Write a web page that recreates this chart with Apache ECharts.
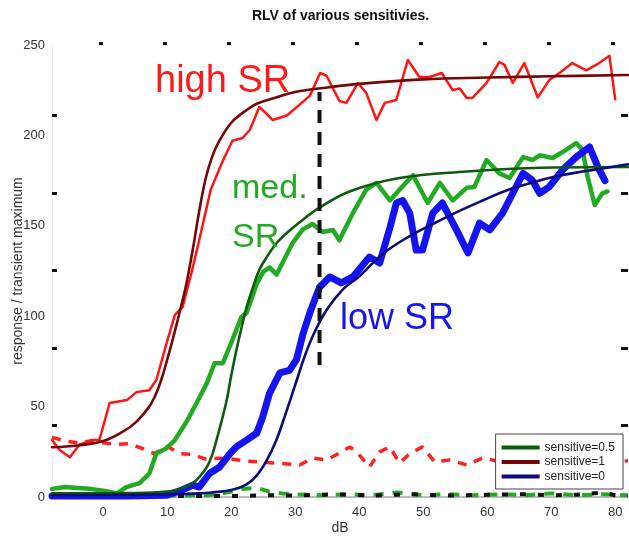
<!DOCTYPE html>
<html>
<head>
<meta charset="utf-8">
<script src="https://cdn.jsdelivr.net/npm/echarts@6/dist/echarts.min.js"></script>
<style>
  html, body { margin: 0; padding: 0; background: #fff; }
  #chart { width: 629px; height: 541px; }
</style>
</head>
<body>
<div id="chart"></div>
<script>
// Rate-level curves (response vs. level in dB) for three sensitivity settings.

const xTicks = [0, 10, 20, 30, 40, 50, 60, 70, 80];
const yTicks = [0, 50, 100, 150, 200, 250];
const sideTicks = [39.8, 82.4, 125.4, 168.1, 211.3];
const topTicks = [-0.45, 9.55, 19.55, 29.55, 39.55, 49.55, 59.55, 69.55, 79.55];

// measured responses: high spontaneous-rate fibre
const highX = [-8, -6.8, -5.2, -3.7, -1.7, -0.6, 1, 3.7, 5.2, 7.2, 8.3, 9.9, 11.2, 12.4, 13.8, 15, 16.8, 18.7, 20.2, 21.8, 22.9, 24.4, 25.5, 26.5, 28.7, 30.7, 32.3, 33.9, 34.9, 36.9, 38, 39.8, 41.1, 42.7, 44, 45.8, 47.6, 49.4, 51, 52.9, 54.6, 55.7, 56.8, 57.7, 59.9, 61.9, 62.7, 64, 65.8, 67.9, 69.7, 71.3, 73.3, 75.5, 77.5, 79.1, 80];
const highY = [31.5, 26, 22, 29, 31.5, 31.5, 52, 53.6, 58, 59, 64.7, 85, 100.7, 105, 124, 142, 170, 186, 197, 198.6, 203, 215.7, 212, 208.5, 211, 217, 222, 234.5, 233, 219, 218, 229, 223.5, 208.5, 218, 219.6, 241.7, 232.3, 232.3, 234.5, 225, 226, 220.7, 220.7, 229, 240.6, 239, 229, 240, 221, 230.6, 234.5, 240, 236, 240, 244, 220];

// measured responses: medium spontaneous-rate fibre
const medX = [-8, -6, -4, -2, 0, 1, 2.2, 3.6, 5.7, 7.2, 8.3, 9.9, 11.2, 13, 14.6, 16.2, 17.4, 18.7, 20.2, 21.6, 22.4, 24, 25, 26, 27.1, 28, 29.6, 31.2, 32.7, 34.3, 35.9, 36.9, 39, 41.1, 42.7, 44.8, 46.3, 48.4, 50.7, 52.6, 54.6, 56.8, 58, 59.9, 61.9, 63.5, 65.6, 67.1, 68.2, 70.2, 71.8, 73.9, 74.9, 75.7, 76.8, 78, 78.8];
const medY = [4.5, 5.5, 5, 4.5, 3.5, 2.8, 2, 5.5, 7.7, 13, 24, 27, 31.5, 41.5, 52, 63, 74, 74, 87, 99.6, 101.8, 118, 124.5, 127, 123, 129.4, 140.5, 148, 151, 146.6, 147.7, 142, 157, 170, 173.7, 164, 170, 178, 162.6, 173.7, 164, 171, 171.5, 186.4, 179, 176.4, 188, 186.4, 189, 187.5, 190.8, 195.8, 192, 177, 161.5, 168, 169];

// measured responses: low spontaneous-rate fibre
const lowX = [-8, -4, 0, 4, 8, 10, 12.4, 14, 15, 16.6, 18.2, 19.8, 20.8, 22.4, 24, 24.9, 26, 27.6, 29.1, 30.2, 31.2, 32.3, 33.8, 35.4, 37.2, 39, 41.6, 43.2, 44.8, 45.8, 46.8, 47.9, 48.9, 49.9, 51.5, 53, 55.2, 57, 58.8, 60.4, 62.4, 64, 65.6, 67.1, 68.2, 69.7, 71.8, 73.9, 76, 77.3, 78.4];
const lowY = [0.5, 0.5, 0.5, 0.5, 0.8, 1, 4, 6.6, 5.5, 13, 16.6, 24, 27.7, 31.5, 35.4, 44, 57.5, 68.6, 70, 76, 90, 102, 116, 121.7, 118.4, 121.7, 132.7, 129.4, 149, 162.6, 164, 157, 136.6, 136.6, 157, 162.6, 147.7, 135, 151.5, 147.7, 157, 168, 179, 175, 168, 171.5, 181, 188, 193.6, 182.5, 175];

// model curves
const fit1X = [-8, -4, 0, 3, 5, 7, 8, 9, 10, 11, 12, 13, 14, 15, 16, 17, 18, 20, 22, 24, 27, 30, 35, 40, 50, 60, 70, 82];
const fit1Y = [27.5, 28.5, 31, 36, 41, 49, 55, 64, 76, 89, 103, 118, 137, 158, 176, 188, 196, 207, 213, 217.5, 221, 224, 226.5, 228.5, 231, 232, 232.7, 233.4];

const fit05X = [-8, 5, 10, 12, 14, 15, 16.2, 17, 17.7, 18.5, 19.3, 20, 20.8, 21.6, 22.4, 23.4, 24.4, 25.7, 27.1, 29, 30.7, 33.8, 38.5, 46.3, 56.8, 67.1, 82];
const fit05Y = [2, 2.2, 3, 4.5, 7.7, 11, 16.6, 23, 31.5, 42, 53.6, 67, 81, 93.5, 105, 116, 125.6, 133.5, 140.5, 147, 152, 160, 169, 176.4, 180, 182, 182.5];

const fit0X = [-8, 5, 10, 15, 17, 20.2, 22.4, 24, 25.5, 27, 28.5, 30, 31.5, 33, 35, 37.5, 40, 43.7, 47.5, 51.5, 55.5, 59.3, 63, 67.1, 71, 74.9, 78.5, 82];
const fit0Y = [1, 1.2, 1.5, 2, 2.5, 4, 7, 12, 20, 31, 46, 62, 78, 91, 104, 115, 122, 134.5, 143.5, 151, 158, 164, 169.5, 174, 177.5, 180, 182, 184];

// spontaneous / baseline traces
const spontHighX = [-8, -6, -4, -2, 0, 2, 4, 6, 8, 10, 12, 14, 16, 18, 20, 22, 24, 26, 28, 30.7, 32.7, 34.9, 37, 38.5, 39.6, 41.6, 43.2, 44.8, 46.3, 47.9, 49.9, 51.8, 54.1, 56.8, 59.3, 60.8, 62, 64, 66, 68, 70, 72, 74, 76, 78, 80, 82];
const spontHighY = [33, 31, 30, 31, 30, 29, 29.5, 27, 24, 28, 24, 23.5, 21, 21.5, 21, 20, 19.5, 19, 18.5, 17.7, 21.6, 20.5, 24.5, 27.7, 25, 16.6, 25, 27.7, 18.8, 24, 27.7, 19.4, 20.5, 17.7, 21.6, 20.5, 19.5, 20, 21, 20, 19.5, 21, 20, 19, 19.5, 19.4, 20];

const spontMedX = [-8, 2, 10, 16, 18, 20, 22, 24, 26, 28, 30, 34, 38, 42, 46, 50, 54, 58, 62, 66, 70, 74, 78, 82];
const spontMedY = [0.5, 0.5, 0.8, 1, 1.5, 3, 4.5, 5, 3, 2, 1.5, 1, 1.5, 1, 2.5, 1, 1.5, 1, 1.5, 1, 2, 1, 1.5, 1];

const spontLowX = [-8, 0, 10, 20, 26, 30, 36, 42, 48, 54, 60, 66, 70, 74, 78, 80, 82];
const spontLowY = [0.3, 0.3, 0.5, 0.5, 1, 0.8, 1.5, 0.8, 1.5, 0.8, 1.2, 1.5, 1, 1.2, 2.5, 1, 0.5];

// threshold marker
const thrX = [33.8, 33.8];
const thrY = [73, 224];

const pairs = (xs, ys) => xs.map((x, i) => [x, ys[i]]);
const FONT = '"Liberation Sans", Arial, Helvetica, sans-serif';

const chart = echarts.init(document.getElementById('chart'), null, { renderer: 'canvas' });

function line(name, xs, ys, color, width, extra) {
  return Object.assign({
    name: name,
    type: 'line',
    data: pairs(xs, ys),
    showSymbol: false,
    symbol: 'none',
    silent: true,
    color: color,
    lineStyle: { color: color, width: width, cap: 'round', join: 'round' }
  }, extra || {});
}

const option = {
  animation: false,
  backgroundColor: '#ffffff',
  textStyle: { fontFamily: FONT },
  title: {
    text: 'RLV of various sensitivies.',
    left: 252,
    top: 9,
    padding: 0,
    textStyle: { fontSize: 14, fontWeight: 'bold', color: '#111', fontFamily: FONT }
  },
  grid: { left: 52, right: 1, top: 45, bottom: 44, containLabel: false, outerBoundsMode: 'none' },
  legend: {
    data: ['sensitive=0.5', 'sensitive=1', 'sensitive=0'],
    orient: 'vertical',
    right: 6,
    top: 434,
    icon: 'rect',
    itemWidth: 38,
    itemHeight: 4,
    itemGap: 1.5,
    padding: [7, 8, 6, 6],
    borderColor: '#444',
    borderWidth: 1,
    borderRadius: 0,
    backgroundColor: '#fff',
    textStyle: { fontSize: 12, color: '#222', fontFamily: FONT, lineHeight: 13 }
  },
  xAxis: [
    {
      type: 'value',
      min: -8,
      max: 82,
      position: 'bottom',
      name: 'dB',
      nameLocation: 'middle',
      nameGap: 24,
      nameMoveOverlap: false,
      nameTextStyle: { fontSize: 14, color: '#333', fontFamily: FONT },
      axisLine: { show: true, onZero: false, lineStyle: { color: '#a8a8a8', width: 1.5 } },
      axisTick: { show: false },
      axisLabel: { customValues: xTicks, fontSize: 13, color: '#333', margin: 9, fontFamily: FONT },
      splitLine: { show: false }
    },
    {
      type: 'value',
      min: -8,
      max: 82,
      position: 'top',
      axisLine: { show: false, onZero: false },
      axisTick: { show: true, inside: false, length: 3, customValues: topTicks, lineStyle: { color: '#111', width: 4 } },
      axisLabel: { show: false },
      splitLine: { show: false }
    }
  ],
  yAxis: [
    {
      type: 'value',
      min: 0,
      max: 250,
      position: 'left',
      name: 'response / transient maximum',
      nameLocation: 'middle',
      nameGap: 27,
      nameMoveOverlap: false,
      nameTextStyle: { fontSize: 14, color: '#333', fontFamily: FONT },
      axisLine: { show: true, onZero: false, lineStyle: { color: '#eeeeee', width: 1 } },
      axisTick: { show: true, inside: true, length: 5, customValues: sideTicks, lineStyle: { color: '#111', width: 3 } },
      axisLabel: { customValues: yTicks, fontSize: 13, color: '#333', margin: 7, fontFamily: FONT },
      splitLine: { show: false }
    },
    {
      type: 'value',
      min: 0,
      max: 250,
      position: 'right',
      axisLine: { show: false, onZero: false },
      axisTick: { show: true, inside: true, length: 7, customValues: sideTicks, lineStyle: { color: '#111', width: 3 } },
      axisLabel: { show: false },
      splitLine: { show: false }
    }
  ],
  series: [
    line('spont high', spontHighX, spontHighY, '#ff2020', 3.5, { lineStyle: { color: '#ff2020', width: 3.5, type: [9, 8] }, z: 2 }),
    line('spont med', spontMedX, spontMedY, '#22aa22', 4, { lineStyle: { color: '#22aa22', width: 4, type: [10, 9] }, z: 2 }),
    line('spont low', spontLowX, spontLowY, '#111111', 4, { lineStyle: { color: '#111111', width: 4, type: [6, 12] }, z: 2 }),
    line('high SR', highX, highY, '#ff1414', 2.5, { z: 3 }),
    line('med SR', medX, medY, '#22aa22', 4.5, { z: 3 }),
    line('low SR', lowX, lowY, '#1414f0', 7, { z: 3 }),
    line('sensitive=0.5', fit05X, fit05Y, '#0d5c0d', 2.6, { smooth: 0.4, z: 4 }),
    line('sensitive=1', fit1X, fit1Y, '#760606', 2.6, { smooth: 0.4, z: 4 }),
    line('sensitive=0', fit0X, fit0Y, '#0c0c78', 2.6, { smooth: 0.4, z: 4 }),
    line('threshold', thrX, thrY, '#111111', 4, { lineStyle: { color: '#111111', width: 4, type: [13, 9] }, z: 5 })
  ],
  graphic: [
    { type: 'text', left: 155, top: 63, z: 10, style: { text: 'high SR', fontSize: 38, fontFamily: FONT, fill: '#ff1a1a' } },
    { type: 'text', left: 232, top: 172, z: 10, style: { text: 'med.', fontSize: 34, fontFamily: FONT, fill: '#22aa22' } },
    { type: 'text', left: 232, top: 221, z: 10, style: { text: 'SR', fontSize: 34, fontFamily: FONT, fill: '#22aa22' } },
    { type: 'text', left: 340, top: 301, z: 10, style: { text: 'low SR', fontSize: 36, fontFamily: FONT, fill: '#1515ee' } }
  ]
};

chart.setOption(option);
</script>
</body>
</html>
